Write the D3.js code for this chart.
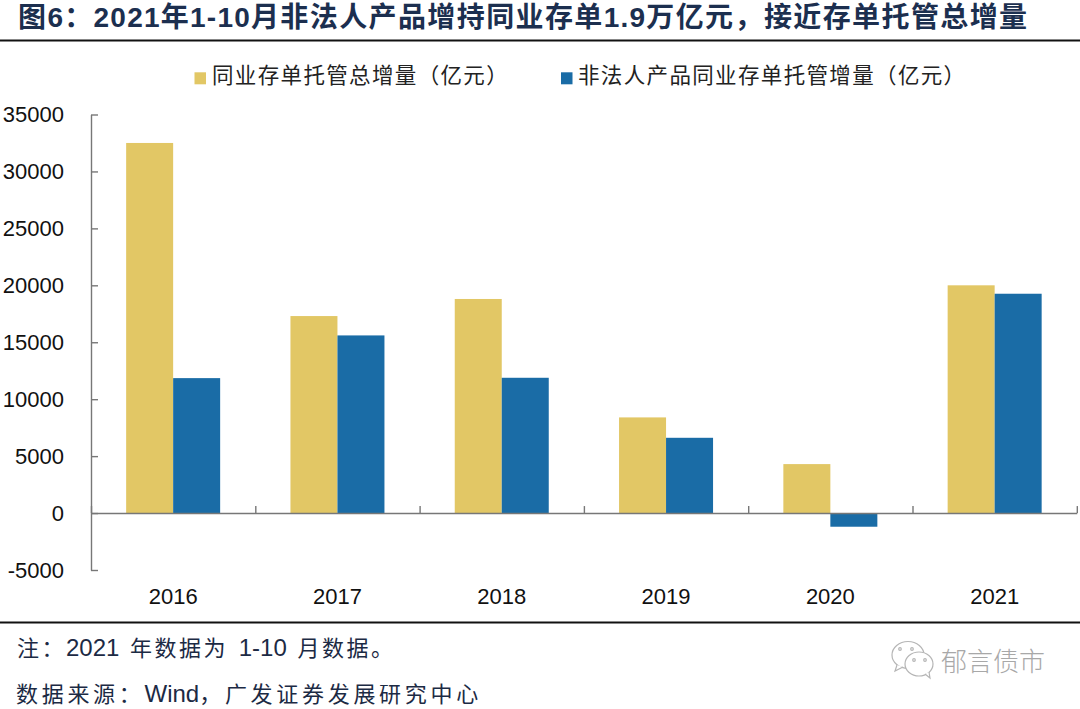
<html>
<head>
  <meta charset="utf-8">
  <title>图6</title>
  <script src="https://d3js.org/d3.v7.min.js"></script>
  <style>
    body { margin: 0; background: #fff; }
    text { font-family: "Liberation Sans", "Noto Sans CJK SC", sans-serif; }
  </style>
</head>
<body>
<script>
var years = ["2016", "2017", "2018", "2019", "2020", "2021"];
var totalCustody = [32500, 17300, 18800, 8400, 4300, 20000];
var nonCorporate = [11850, 15600, 11880, 6610, -1200, 19260];
var yTicks = [-5000, 0, 5000, 10000, 15000, 20000, 25000, 30000, 35000];
var seriesNames = ["同业存单托管总增量（亿元）", "非法人产品同业存单托管增量（亿元）"];
var seriesColors = ["#e2c765", "#1a6ca6"];
var titleText = "图6：2021年1-10月非法人产品增持同业存单1.9万亿元，接近存单托管总增量";
var noteText = "注：2021 年数据为 1-10 月数据。";
var sourceText = "数据来源：Wind，广发证券发展研究中心";
var watermark = "郁言债市";

var width = 1080,
    height = 709;

var svg = d3.select("body")
  .append("svg")
  .attr("width", width)
  .attr("height", height)
  .style("display", "block");

var x = d3.scaleBand().domain(years).range([91, 1076.8]);
var xEdges = d3.scaleLinear().domain([0, years.length]).range([91, 1076.8]);
var y = d3.scaleLinear().domain([-5000, 35000]).range([570, 114.5]);
var barWidth = 47;

// latin and cjk runs get their own size and spacing
function mixedText(str, px, py, o) {
  var t = svg.append("text")
    .attr("x", px).attr("y", py)
    .attr("fill", o.fill)
    .attr("font-weight", o.weight || "normal");
  str.match(/[\x20-\x7e]+|[^\x20-\x7e]+/g).forEach(function(run) {
    var latin = /^[\x20-\x7e]/.test(run);
    t.append("tspan")
      .attr("font-size", latin ? o.latinSize : o.cjkSize)
      .attr("letter-spacing", latin ? (o.latinGap || 0) : o.cjkGap)
      .attr("word-spacing", latin ? (o.wordGap || 0) : 0)
      .text(run);
  });
  return t;
}

// title and rules
mixedText(titleText, 18, 27, { fill: "#1c2f4f", weight: "bold", latinSize: 28, cjkSize: 28, cjkGap: 1.4, latinGap: 1.2 });

svg.selectAll(".rule")
  .data([40.5, 622.5])
  .enter().append("line")
  .attr("x1", 0).attr("x2", width)
  .attr("y1", function(d) { return d; })
  .attr("y2", function(d) { return d; })
  .attr("stroke", "#111").attr("stroke-width", 2);

// legend
var legendX = [[194.5, 212], [561, 578]];
seriesNames.forEach(function(name, i) {
  svg.append("rect")
    .attr("x", legendX[i][0]).attr("y", 72.3)
    .attr("width", 11.5).attr("height", 12)
    .attr("fill", seriesColors[i]);
  mixedText(name, legendX[i][1], 83, { fill: "#222", latinSize: 22, cjkSize: 21.5, cjkGap: 1.35 });
});

// bars
var groups = svg.selectAll(".year")
  .data(years)
  .enter().append("g")
  .attr("transform", function(d) { return "translate(" + (x(d) + x.bandwidth() / 2) + ",0)"; });

[totalCustody, nonCorporate].forEach(function(values, s) {
  groups.append("rect")
    .attr("x", s === 0 ? -barWidth : 0)
    .attr("width", barWidth)
    .attr("y", function(d, i) { return Math.min(y(values[i]), y(0)); })
    .attr("height", function(d, i) { return Math.abs(y(values[i]) - y(0)); })
    .attr("fill", seriesColors[s]);
});

// axes
var yAxis = svg.append("g")
  .attr("transform", "translate(91,0)")
  .call(d3.axisLeft(y).tickValues(yTicks).tickSize(-7).tickSizeOuter(0).tickPadding(27).tickFormat(String));

var xTicks = svg.append("g")
  .attr("transform", "translate(0," + y(0) + ")")
  .call(d3.axisBottom(xEdges).ticks(years.length).tickSize(-7).tickSizeOuter(0).tickFormat(""));

var xLabels = svg.append("g")
  .attr("transform", "translate(0," + y(0) + ")")
  .call(d3.axisBottom(x).tickSize(0).tickPadding(75));
xLabels.select(".domain").remove();

yAxis.selectAll("text").attr("font-size", 22).attr("fill", "#111").style("font-family", "Liberation Sans");
xLabels.selectAll("text").attr("font-size", 22).attr("fill", "#111").style("font-family", "Liberation Sans");
[yAxis, xTicks].forEach(function(a) {
  a.selectAll(".domain, .tick line").attr("stroke", "#777").attr("stroke-width", 1.4);
});

// footnotes
mixedText(noteText, 17, 656, { fill: "#1c2a44", latinSize: 24, cjkSize: 22, cjkGap: 2.5, wordGap: 4 });
mixedText(sourceText, 16, 702, { fill: "#1c2a44", latinSize: 24, cjkSize: 22, cjkGap: 3.7 });

// wechat mark
var mark = svg.append("g").attr("fill", "#fff").attr("stroke", "#b5b5b5").attr("stroke-width", 1.2);
mark.append("ellipse").attr("cx", 908).attr("cy", 655).attr("rx", 16).attr("ry", 13.5);
mark.append("path").attr("d", "M897 665 L895 671 L903 667");
mark.append("ellipse").attr("cx", 919).attr("cy", 664).attr("rx", 14).attr("ry", 12);
mark.append("path").attr("d", "M925 674 L930 678 L929 672");
mark.selectAll(".eye")
  .data([[900, 649], [912, 649], [914, 660], [925, 660]])
  .enter().append("circle")
  .attr("cx", function(d) { return d[0]; })
  .attr("cy", function(d) { return d[1]; })
  .attr("r", 1.3);

svg.append("text")
  .attr("x", 941).attr("y", 671)
  .attr("textLength", 104).attr("lengthAdjust", "spacing")
  .attr("font-size", 26).attr("font-weight", 300)
  .attr("fill", "#a8a8a8")
  .text(watermark);
</script>
</body>
</html>
